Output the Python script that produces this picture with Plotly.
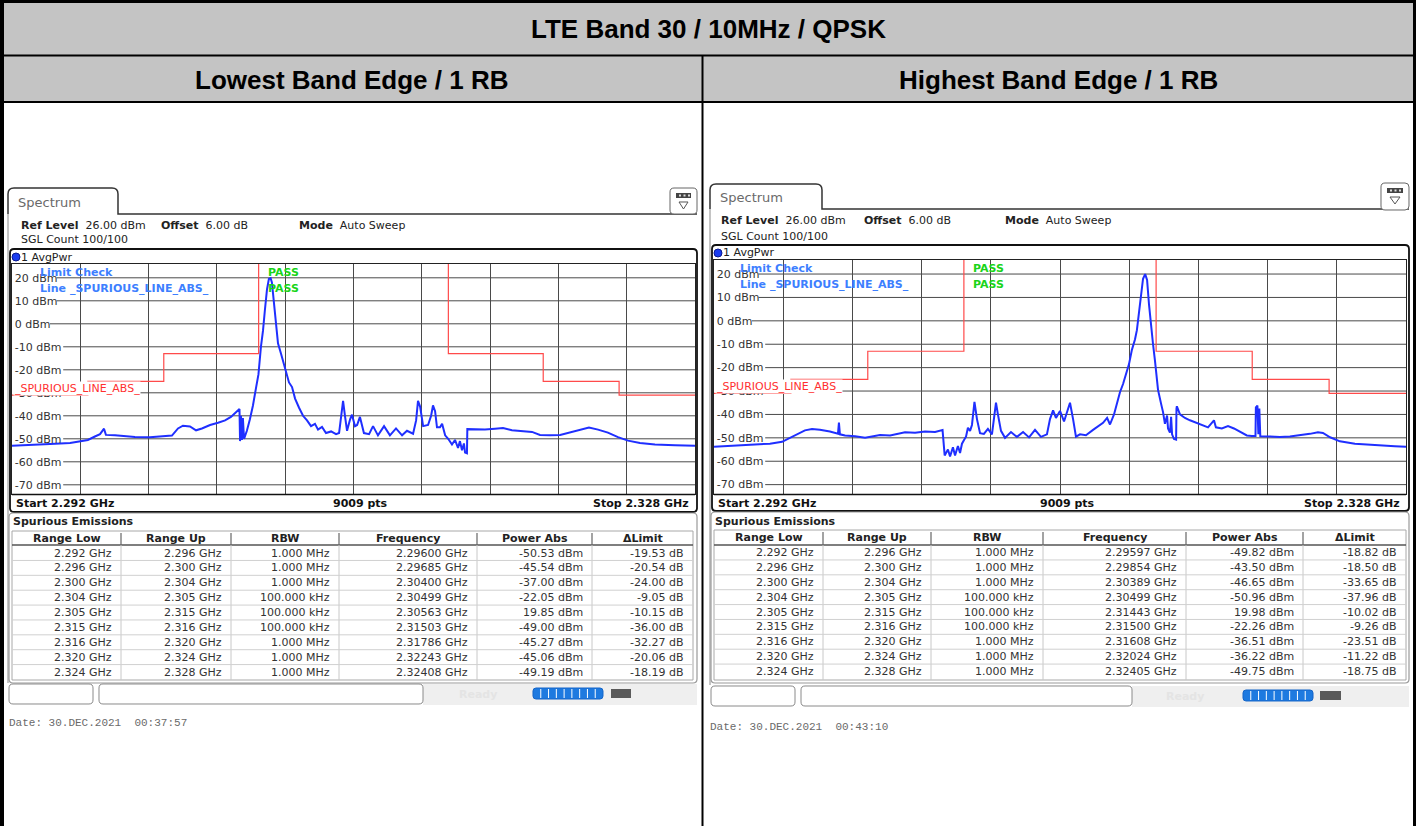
import plotly.graph_objects as go

W, H = 1416, 826

TITLE = "LTE Band 30 / 10MHz / QPSK"
PANEL_TITLES = ["Lowest Band Edge / 1 RB", "Highest Band Edge / 1 RB"]
DATES = ["Date: 30.DEC.2021  00:37:57", "Date: 30.DEC.2021  00:43:10"]

F_START, F_STOP = 2.292, 2.328
REF_LEVEL, Y_BOTTOM = 26, -74
Y_TICKS = [20, 10, 0, -10, -20, -30, -40, -50, -60, -70]
X_DIVS = 10

LIMIT_EDGES = [2.292, 2.296, 2.300, 2.304, 2.305, 2.315, 2.316, 2.320, 2.324, 2.328]
LIMIT_LEVELS = [-31, -25, -13, -13, 30, -13, -13, -25, -31]

left_freq = [2.29200, 2.29295, 2.29400, 2.29506, 2.29558, 2.29600, 2.29637, 2.29664, 2.29685, 2.29695,
             2.29743, 2.29796, 2.29848, 2.29927, 2.30006, 2.30043, 2.30075, 2.30101, 2.30138, 2.30170,
             2.30201, 2.30244, 2.30286, 2.30323, 2.30354, 2.30375, 2.30391, 2.30399, 2.30402, 2.30407,
             2.30412, 2.30417, 2.30423, 2.30438, 2.30454, 2.30470, 2.30486, 2.30499, 2.30512, 2.30523,
             2.30533, 2.30544, 2.30554, 2.30563, 2.30570, 2.30581, 2.30591, 2.30602, 2.30618, 2.30634,
             2.30649, 2.30660, 2.30676, 2.30692, 2.30713, 2.30734, 2.30755, 2.30776, 2.30797, 2.30813,
             2.30834, 2.30855, 2.30882, 2.30908, 2.30924, 2.30934, 2.30945, 2.30955, 2.30966, 2.30982,
             2.30992, 2.31008, 2.31019, 2.31034, 2.31055, 2.31082, 2.31103, 2.31129, 2.31161, 2.31192,
             2.31224, 2.31256, 2.31282, 2.31314, 2.31330, 2.31340, 2.31351, 2.31367, 2.31393, 2.31409,
             2.31419, 2.31430, 2.31440, 2.31456, 2.31467, 2.31483, 2.31499, 2.31519, 2.31535, 2.31551,
             2.31561, 2.31572, 2.31582, 2.31588, 2.31598, 2.31600, 2.31640, 2.31693, 2.31746, 2.31788,
             2.31835, 2.31888, 2.31941, 2.31983, 2.32036, 2.32089, 2.32141, 2.32194, 2.32241, 2.32289,
             2.32341, 2.32394, 2.32447, 2.32510, 2.32589, 2.32695, 2.32800]
left_dbm = [-53.0, -52.8, -52.3, -51.8, -51.2, -50.5, -49.0, -48.0, -45.6, -48.3,
            -48.5, -48.8, -49.2, -49.3, -49.0, -48.6, -45.5, -44.3, -44.6, -46.3,
            -45.5, -44.0, -43.0, -42.0, -40.5, -39.0, -38.0, -37.0, -51.0, -40.0,
            -50.5, -41.0, -50.0, -46.5, -41.5, -35.5, -28.0, -22.0, -10.0, -3.0,
            6.0, 15.0, 19.5, 19.85, 18.0, 8.0, 0.0, -8.5, -13.0, -17.5,
            -22.0, -25.5, -27.5, -32.5, -36.5, -40.0, -42.0, -44.5, -43.5, -46.0,
            -44.8, -47.5, -46.8, -48.0, -47.5, -40.0, -33.5, -40.0, -46.5, -41.5,
            -39.5, -44.5, -44.0, -40.5, -47.5, -48.0, -44.5, -48.5, -44.5, -48.5,
            -45.5, -48.5, -46.5, -47.8, -42.0, -33.5, -36.0, -44.5, -44.0, -40.0,
            -35.5, -38.0, -45.0, -45.0, -43.5, -48.5, -50.0, -52.5, -50.5, -54.0,
            -51.0, -55.0, -52.0, -56.0, -56.3, -45.8, -45.8, -46.0, -45.6, -45.3,
            -46.3, -46.6, -47.0, -48.3, -48.5, -48.3, -47.3, -46.0, -45.1, -46.0,
            -47.3, -49.3, -50.8, -51.8, -52.5, -52.8, -53.0]

right_freq = [2.29200, 2.29283, 2.29387, 2.29491, 2.29554, 2.29595, 2.29632, 2.29673, 2.29710, 2.29751,
              2.29803, 2.29845, 2.29850, 2.29855, 2.29882, 2.29934, 2.29986, 2.30022, 2.30064, 2.30116,
              2.30152, 2.30194, 2.30246, 2.30298, 2.30350, 2.30389, 2.30400, 2.30417, 2.30428, 2.30443,
              2.30454, 2.30469, 2.30480, 2.30490, 2.30500, 2.30511, 2.30521, 2.30532, 2.30542, 2.30555,
              2.30568, 2.30584, 2.30604, 2.30625, 2.30646, 2.30656, 2.30667, 2.30677, 2.30693, 2.30714,
              2.30745, 2.30776, 2.30808, 2.30839, 2.30870, 2.30901, 2.30932, 2.30948, 2.30964, 2.30979,
              2.31000, 2.31021, 2.31042, 2.31052, 2.31068, 2.31083, 2.31104, 2.31135, 2.31172, 2.31198,
              2.31224, 2.31245, 2.31260, 2.31281, 2.31297, 2.31312, 2.31328, 2.31343, 2.31359, 2.31374,
              2.31390, 2.31400, 2.31411, 2.31421, 2.31432, 2.31443, 2.31453, 2.31463, 2.31474, 2.31484,
              2.31494, 2.31500, 2.31510, 2.31526, 2.31536, 2.31546, 2.31557, 2.31562, 2.31572, 2.31578,
              2.31583, 2.31593, 2.31604, 2.31606, 2.31608, 2.31624, 2.31650, 2.31676, 2.31707, 2.31738,
              2.31770, 2.31801, 2.31811, 2.31842, 2.31874, 2.31905, 2.31936, 2.31972, 2.31998, 2.32017,
              2.32019, 2.32027, 2.32032, 2.32037, 2.32042, 2.32092, 2.32144, 2.32196, 2.32248, 2.32300,
              2.32342, 2.32368, 2.32405, 2.32456, 2.32534, 2.32638, 2.32742, 2.32800]
right_dbm = [-53.8, -53.5, -53.0, -52.5, -51.7, -50.0, -48.3, -46.8, -46.2, -46.5,
             -47.3, -48.2, -43.5, -48.5, -49.0, -49.3, -50.0, -49.4, -48.8, -49.0,
             -48.3, -47.6, -47.8, -47.3, -47.5, -46.7, -57.5, -55.0, -58.0, -54.0,
             -57.5, -53.5, -56.5, -52.5, -51.0, -49.5, -45.7, -47.0, -44.5, -34.6,
             -42.0, -48.0, -48.3, -46.2, -48.5, -43.0, -35.0, -40.0, -47.0, -50.0,
             -47.5, -49.6, -47.5, -49.8, -46.6, -49.6, -48.5, -42.0, -38.3, -41.5,
             -38.5, -43.0, -37.0, -35.0, -42.0, -49.5, -48.5, -48.9, -46.6, -45.0,
             -43.6, -41.5, -44.3, -40.0, -35.0, -30.5, -27.0, -22.5, -18.5, -12.4,
             -8.0, -4.0, 4.0, 12.0, 18.0, 19.98, 17.5, 7.0, -3.0, -10.0,
             -17.0, -22.3, -29.5, -35.5, -39.0, -44.0, -40.5, -46.0, -47.8, -41.0,
             -48.5, -50.5, -50.8, -37.5, -36.5, -40.0, -41.5, -42.5, -43.5, -44.5,
             -45.5, -42.5, -45.5, -46.0, -45.0, -46.0, -47.3, -49.0, -49.2, -49.2,
             -37.0, -36.2, -48.5, -37.5, -49.3, -49.5, -49.6, -49.4, -49.0, -48.3,
             -47.6, -47.9, -49.75, -51.5, -52.5, -53.2, -53.6, -53.8]

TABLE_HEADERS = ["Range Low", "Range Up", "RBW", "Frequency", "Power Abs", "\u0394Limit"]
RANGE_LOW = ["2.292 GHz", "2.296 GHz", "2.300 GHz", "2.304 GHz", "2.305 GHz",
             "2.315 GHz", "2.316 GHz", "2.320 GHz", "2.324 GHz"]
RANGE_UP = ["2.296 GHz", "2.300 GHz", "2.304 GHz", "2.305 GHz", "2.315 GHz",
            "2.316 GHz", "2.320 GHz", "2.324 GHz", "2.328 GHz"]
RBW = ["1.000 MHz", "1.000 MHz", "1.000 MHz", "100.000 kHz", "100.000 kHz",
       "100.000 kHz", "1.000 MHz", "1.000 MHz", "1.000 MHz"]
left_peak_freq = ["2.29600 GHz", "2.29685 GHz", "2.30400 GHz", "2.30499 GHz", "2.30563 GHz",
                  "2.31503 GHz", "2.31786 GHz", "2.32243 GHz", "2.32408 GHz"]
left_power = ["-50.53 dBm", "-45.54 dBm", "-37.00 dBm", "-22.05 dBm", "19.85 dBm",
              "-49.00 dBm", "-45.27 dBm", "-45.06 dBm", "-49.19 dBm"]
left_delta = ["-19.53 dB", "-20.54 dB", "-24.00 dB", "-9.05 dB", "-10.15 dB",
              "-36.00 dB", "-32.27 dB", "-20.06 dB", "-18.19 dB"]
right_peak_freq = ["2.29597 GHz", "2.29854 GHz", "2.30389 GHz", "2.30499 GHz", "2.31443 GHz",
                   "2.31500 GHz", "2.31608 GHz", "2.32024 GHz", "2.32405 GHz"]
right_power = ["-49.82 dBm", "-43.50 dBm", "-46.65 dBm", "-50.96 dBm", "19.98 dBm",
               "-22.26 dBm", "-36.51 dBm", "-36.22 dBm", "-49.75 dBm"]
right_delta = ["-18.82 dB", "-18.50 dB", "-33.65 dB", "-37.96 dB", "-10.02 dB",
               "-9.26 dB", "-23.51 dB", "-11.22 dB", "-18.75 dB"]

SANS = "DejaVu Sans"
ARIAL = "Liberation Sans"
MONO = "Liberation Mono"
TRACE_BLUE = "#1f2fff"
LIMIT_RED = "#ff4a4a"
GRID = "#4a4a4a"

shapes, annos = [], []


def px(x):
    return x / W


def py(y):
    return 1 - y / H


def rect(x0, y0, x1, y1, fill=None, line=None, lw=1, layer="above"):
    shapes.append(dict(type="rect", xref="paper", yref="paper", x0=px(x0), x1=px(x1),
                       y0=py(y1), y1=py(y0), fillcolor=fill or "rgba(0,0,0,0)",
                       line=dict(color=line or "rgba(0,0,0,0)", width=lw if line else 0), layer=layer))


def hline(x0, x1, y, color, lw=1):
    shapes.append(dict(type="line", xref="paper", yref="paper", x0=px(x0), x1=px(x1),
                       y0=py(y), y1=py(y), line=dict(color=color, width=lw)))


def vline(x, y0, y1, color, lw=1):
    shapes.append(dict(type="line", xref="paper", yref="paper", x0=px(x), x1=px(x),
                       y0=py(y0), y1=py(y1), line=dict(color=color, width=lw)))


def P(x, y):
    return f"{px(x):.6f},{py(y):.6f}"


def rrect_path(x0, y0, x1, y1, r):
    return (f"M {P(x0 + r, y0)} L {P(x1 - r, y0)} Q {P(x1, y0)} {P(x1, y0 + r)} "
            f"L {P(x1, y1 - r)} Q {P(x1, y1)} {P(x1 - r, y1)} L {P(x0 + r, y1)} "
            f"Q {P(x0, y1)} {P(x0, y1 - r)} L {P(x0, y0 + r)} Q {P(x0, y0)} {P(x0 + r, y0)} Z")


def path(d, color, lw=1, fill=None):
    shapes.append(dict(type="path", xref="paper", yref="paper", path=d,
                       fillcolor=fill or "rgba(0,0,0,0)", line=dict(color=color, width=lw)))


def text(x, y, s, size=11, color="#222", family=SANS, anchor="left", bg=None):
    annos.append(dict(x=px(x), y=py(y), xref="paper", yref="paper", text=s, showarrow=False,
                      xanchor=anchor, yanchor="middle", borderpad=0,
                      font=dict(family=family, size=size, color=color),
                      bgcolor=bg or "rgba(0,0,0,0)"))


# ---------- page header table ----------
rect(0, 2, W, 55, fill="#c4c4c4")
rect(0, 56, W, 102, fill="#c4c4c4")
hline(0, W, 1.5, "#000", 3)
hline(0, W, 55.5, "#000", 2)
hline(0, W, 102, "#000", 2)
vline(2, 0, H, "#000", 4)
vline(1414.5, 0, H, "#000", 3)
vline(702.5, 55, H, "#000", 2)
text(708, 29, f"<b>{TITLE}</b>", size=26, color="#000", family=ARIAL, anchor="center")
text(352, 80, f"<b>{PANEL_TITLES[0]}</b>", size=26, color="#000", family=ARIAL, anchor="center")
text(1058, 80, f"<b>{PANEL_TITLES[1]}</b>", size=26, color="#000", family=ARIAL, anchor="center")

panels = [
    dict(x0=8, x1=697, gx0=12, gx1=695, tab_top=188, tab_bot=214, tab_r=118,
         icon=(670, 188, 697, 214), ref_y=225, sgl_y=240, frame_top=249, avg_y=257,
         gy0=264, gy1=494, start_y=503, frame_bot=512, spur_y=521, hdr_y0=531, hdr_y1=545,
         row0=553, row_h=14.875, tbl_bot=680, cols=[12, 121, 231, 339, 477, 592, 693],
         st_y0=684, st_y1=704, box1=(9, 93), box2=(99, 423), ready_x=478, bar=(533, 603),
         icon2=(611, 631), date_x=8, date_y=723, lim_y=272, line_y=288, pass_x=267, lc_x=40,
         ref_x=(20, 160, 298), red_y=389,
         freq=left_freq, dbm=left_dbm, pf=left_peak_freq, pw=left_power, dl=left_delta,
         date=DATES[0]),
    dict(x0=710, x1=1409, gx0=714, gx1=1406, tab_top=184, tab_bot=209, tab_r=822,
         icon=(1381, 183, 1409, 210), ref_y=220, sgl_y=236, frame_top=245, avg_y=253,
         gy0=260, gy1=494, start_y=503, frame_bot=511, spur_y=521, hdr_y0=530, hdr_y1=545,
         row0=552.5, row_h=14.875, tbl_bot=680, cols=[714, 823, 931, 1043, 1186, 1303, 1406],
         st_y0=686, st_y1=706, box1=(711, 795), box2=(801, 1132), ready_x=1185, bar=(1243, 1313),
         icon2=(1320, 1341), date_x=709, date_y=727, lim_y=268, line_y=284, pass_x=972, lc_x=740,
         ref_x=(720, 863, 1004), red_y=386,
         freq=right_freq, dbm=right_dbm, pf=right_peak_freq, pw=right_power, dl=right_delta,
         date=DATES[1]),
]

fig = go.Figure()
layout_axes = {}

for i, p in enumerate(panels):
    sfx = "" if i == 0 else str(i + 1)
    xa, ya = "x" + sfx, "y" + sfx

    # spectrum trace
    fig.add_trace(go.Scatter(x=p["freq"], y=p["dbm"], mode="lines", xaxis=xa, yaxis=ya,
                             line=dict(color=TRACE_BLUE, width=2.0), hoverinfo="skip"))
    # limit line
    fig.add_trace(go.Scatter(x=LIMIT_EDGES, y=LIMIT_LEVELS + [LIMIT_LEVELS[-1]], mode="lines",
                             xaxis=xa, yaxis=ya, line=dict(color=LIMIT_RED, width=1.2, shape="hv"),
                             hoverinfo="skip"))

    step = (F_STOP - F_START) / X_DIVS
    layout_axes["xaxis" + sfx] = dict(
        domain=[px(p["gx0"]), px(p["gx1"])], range=[F_START, F_STOP], anchor=ya,
        tickvals=[F_START + k * step for k in range(1, X_DIVS)], showticklabels=False, ticks="",
        showgrid=True, gridcolor=GRID, gridwidth=1, zeroline=False,
        showline=True, mirror=True, linecolor="#222", linewidth=1)
    layout_axes["yaxis" + sfx] = dict(
        domain=[py(p["gy1"]), py(p["gy0"])], range=[Y_BOTTOM, REF_LEVEL], anchor=xa,
        tickvals=Y_TICKS, ticktext=[f"{v} dBm" for v in Y_TICKS], ticklabelposition="inside",
        ticklabelstandoff=2, ticks="", tickfont=dict(family=SANS, size=11, color="#333"),
        showgrid=False, zeroline=False,
        showline=True, mirror=True, linecolor="#222", linewidth=1)

    # horizontal grid lines, starting right after each inside tick label
    gw = p["gx1"] - p["gx0"]
    for v in Y_TICKS:
        lab = f"{v} dBm"
        wpx = 5 + 6.6 * len(lab)
        shapes.append(dict(type="line", xref=xa + " domain", yref=ya, x0=wpx / gw, x1=1,
                           y0=v, y1=v, line=dict(color=GRID, width=1), layer="below"))

    # --- screenshot chrome ---
    x0, x1 = p["x0"], p["x1"]
    tt, tb, tr = p["tab_top"], p["tab_bot"], p["tab_r"]
    path(f"M {P(x0, tb)} L {P(x0, tt + 6)} Q {P(x0, tt)} {P(x0 + 6, tt)} L {P(tr - 6, tt)} "
         f"Q {P(tr, tt)} {P(tr, tt + 6)} L {P(tr, tb)} L {P(x1, tb)}", "#333", 1.5)
    text(x0 + 9, (tt + tb) / 2 + 1, "Spectrum", size=13, color="#6a6a6a")
    vline(x0, tb, p["st_y0"] - 1, "#8a8a8a", 1)
    ix0, iy0, ix1, iy1 = p["icon"]
    path(rrect_path(ix0, iy0, ix1, iy1, 4), "#666", 1, fill="white")
    rect(ix0 + 6, iy0 + 5, ix1 - 6, iy0 + 10, fill="#444")
    for k in range(3):
        cx = ix0 + 9 + k * 4.5
        rect(cx, iy0 + 6.5, cx + 2, iy0 + 8.5, fill="#ddd")
    path(f"M {P(ix0 + 9, iy0 + 14)} L {P(ix1 - 9, iy0 + 14)} L {P((ix0 + ix1) / 2, iy0 + 21)} Z",
         "#555", 1)

    rx = p["ref_x"]
    text(rx[0], p["ref_y"], "<b>Ref Level</b>  26.00 dBm", size=11, color="#222")
    text(rx[1], p["ref_y"], "<b>Offset</b>  6.00 dB", size=11, color="#222")
    text(rx[2], p["ref_y"], "<b>Mode</b>  Auto Sweep", size=11, color="#222")
    text(rx[0], p["sgl_y"], "SGL Count 100/100", size=11, color="#222")

    # plot frame
    path(rrect_path(x0 + 2, p["frame_top"], x1, p["frame_bot"], 4), "#111", 1.8)
    cx, cy = x0 + 8, p["avg_y"]
    shapes.append(dict(type="circle", xref="paper", yref="paper", x0=px(cx - 4), x1=px(cx + 4),
                       y0=py(cy + 4), y1=py(cy - 4), fillcolor="#1a3cf0",
                       line=dict(color="#0a1a90", width=1)))
    text(cx + 4, cy, "1 AvgPwr", size=11, color="#222")
    hline(p["gx0"], p["gx1"], p["gy1"] + 0.5, "#111", 1.5)

    text(p["gx0"] + 3, p["start_y"], "<b>Start 2.292 GHz</b>", size=11, color="#111")
    text((p["gx0"] + p["gx1"]) / 2 + 7, p["start_y"], "<b>9009 pts</b>", size=11, color="#111",
         anchor="center")
    text(p["gx1"] - 5, p["start_y"], "<b>Stop 2.328 GHz</b>", size=11, color="#111", anchor="right")

    # labels inside the diagram
    text(p["lc_x"] - 1, p["lim_y"], "<b>Limit Check</b>", size=11, color="#3d7fff")
    text(p["lc_x"] - 1, p["line_y"], "<b>Line _SPURIOUS_LINE_ABS_</b>", size=11, color="#3d7fff")
    text(p["pass_x"], p["lim_y"], "<b>PASS</b>", size=11, color="#19d419")
    text(p["pass_x"], p["line_y"], "<b>PASS</b>", size=11, color="#19d419")
    text(p["gx0"] + 1, p["red_y"], "_SPURIOUS_LINE_ABS_", size=11, color="#ff3030", bg="white")

    # --- spurious emissions table ---
    path(rrect_path(x0 + 1, p["frame_bot"] + 1, x1, p["tbl_bot"] + 3, 4), "#9a9a9a", 1.2)
    text(p["cols"][0], p["spur_y"], "<b>Spurious Emissions</b>", size=11, color="#222")
    cols = p["cols"]
    rect(cols[0], p["hdr_y0"], cols[-1], p["tbl_bot"], fill="white", line="#a8a8a8", lw=1)
    hline(cols[0], cols[-1], p["hdr_y1"], "#555", 1.5)
    hdr_mid = (p["hdr_y0"] + p["hdr_y1"]) / 2
    for c in range(6):
        text((cols[c] + cols[c + 1]) / 2, hdr_mid, f"<b>{TABLE_HEADERS[c]}</b>", size=11,
             color="#222", anchor="center")
        if c > 0:
            vline(cols[c], p["hdr_y0"] + 2, p["hdr_y1"], "#666", 1.2)
            vline(cols[c], p["hdr_y1"], p["tbl_bot"], "#c8c8c8", 1)
    columns = [RANGE_LOW, RANGE_UP, RBW, p["pf"], p["pw"], p["dl"]]
    for r in range(9):
        yc = p["row0"] + r * p["row_h"]
        if r < 8:
            hline(cols[0], cols[-1], yc + p["row_h"] / 2, "#d0d0d0", 1)
        for c in range(6):
            text(cols[c + 1] - 8, yc, columns[c][r], size=11, color="#333", anchor="right")

    # --- status bar ---
    sy0, sy1 = p["st_y0"], p["st_y1"]
    rect(p["box2"][1], sy0, x1, sy1 + 1, fill="#efefef")
    path(rrect_path(p["box1"][0], sy0, p["box1"][1], sy1, 4), "#8a8a8a", 1, fill="white")
    path(rrect_path(p["box2"][0], sy0, p["box2"][1], sy1, 4), "#8a8a8a", 1, fill="white")
    text(p["ready_x"], (sy0 + sy1) / 2, "<b>Ready</b>", size=11, color="#e4e4e4", anchor="center")
    bx0, bx1 = p["bar"]
    path(rrect_path(bx0, sy0 + 4, bx1, sy1 - 5, 3), "#1565c8", 1, fill="#1e7ae0")
    for k in range(1, 9):
        xx = bx0 + k * (bx1 - bx0) / 9
        vline(xx, sy0 + 5, sy1 - 6, "white", 1)
    ic0, ic1 = p["icon2"]
    rect(ic0, sy0 + 5, ic1, sy1 - 6, fill="#5a5a5a")

    text(p["date_x"], p["date_y"], p["date"], size=11, color="#6a6a6a", family=MONO)

fig.update_layout(
    width=W, height=H, margin=dict(l=0, r=0, t=0, b=0),
    paper_bgcolor="white", plot_bgcolor="white", showlegend=False,
    shapes=shapes, annotations=annos, **layout_axes)

fig.write_html("out.html", config={"displayModeBar": False},
               post_script="document.body.style.margin='0px';document.body.style.overflow='hidden';")
